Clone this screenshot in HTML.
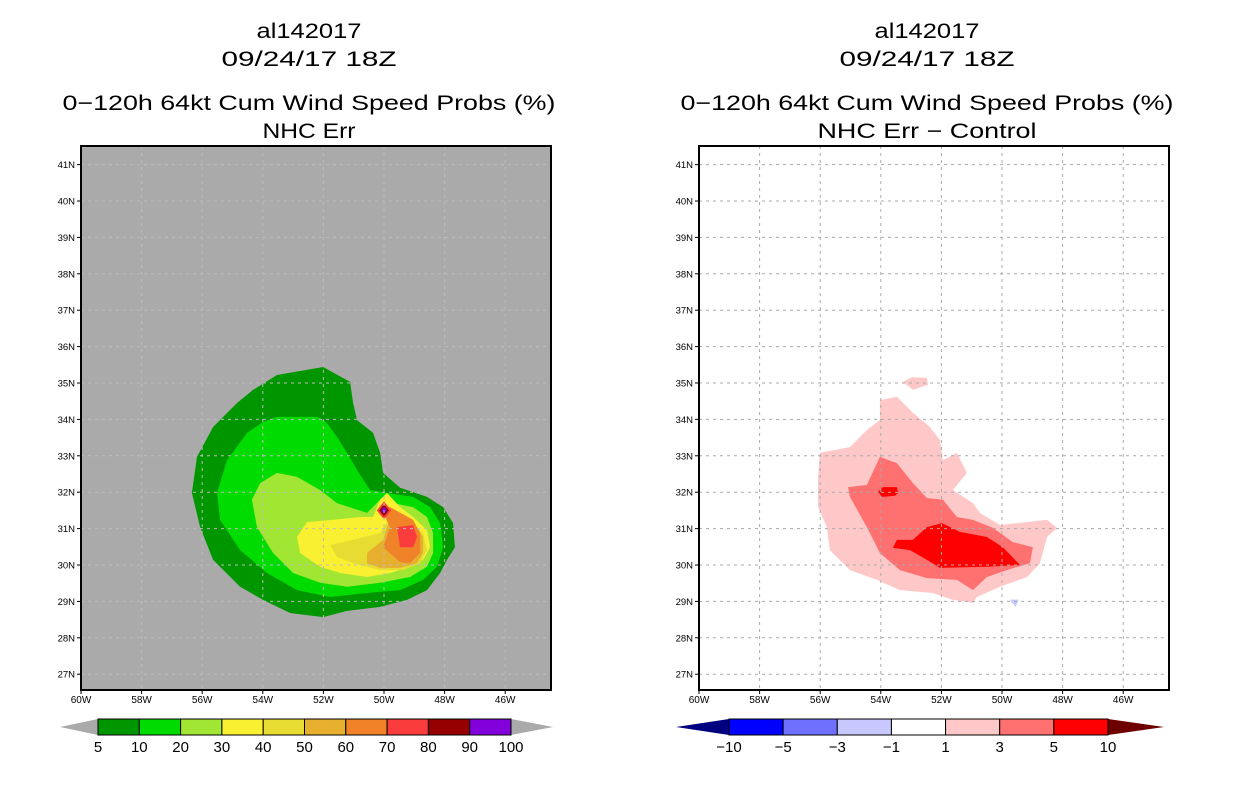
<!DOCTYPE html>
<html><head><meta charset="utf-8"><style>
html,body{margin:0;padding:0;background:#fff;}
svg{display:block;font-family:"Liberation Sans",sans-serif;}
</style></head><body>
<svg id="c" width="1236" height="800" viewBox="0 0 1236 800"></svg>
<script>
// ---- data ----
const lonTicks=[60,58,56,54,52,50,48,46];
const latTicks=[41,40,39,38,37,36,35,34,33,32,31,30,29,28,27];
const probLevels=[5,10,20,30,40,50,60,70,80,90,100];
const probColors=['#009600','#00dc00','#a0e632','#faf032','#e6dc32','#e6af2d','#f08228','#fa3c3c','#960000','#8200dc'];
const diffLabels=[-10,-5,-3,-1,1,3,5,10];
const diffColors=['#0000ff','#7070ff','#c8c8ff','#ffffff','#ffc8c8','#ff7070','#ff0000'];
// contours [lonW, latN]
const p5=[[53.53,35.22],[52.01,35.44],[51.12,35.03],[51.02,34.45],[50.89,33.98],[50.36,33.63],[50.13,33.08],[50.03,32.53],[49.47,32.12],[48.58,31.87],[48.05,31.59],[47.72,31.15],[47.66,30.49],[47.92,30.14],[48.15,29.78],[48.58,29.31],[49.24,29.04],[50.13,28.85],[51.22,28.74],[52.01,28.57],[53.10,28.68],[53.99,29.04],[54.75,29.40],[55.64,30.14],[56.07,31.04],[56.34,31.98],[56.17,32.97],[55.64,33.79],[54.85,34.45],[54.32,34.81]];
const p10=[[53.53,34.07],[52.21,34.07],[51.88,33.90],[51.55,33.52],[51.22,33.08],[50.89,32.61],[50.46,32.06],[49.90,31.98],[49.04,31.87],[48.48,31.59],[48.15,31.15],[48.05,30.49],[48.25,29.95],[48.71,29.59],[49.47,29.31],[50.56,29.23],[51.78,29.12],[52.87,29.31],[53.86,29.78],[54.75,30.41],[55.41,31.24],[55.51,31.98],[55.18,32.88],[54.52,33.63],[53.99,33.93]];
const p20=[[53.53,32.53],[52.87,32.42],[52.11,32.06],[51.55,31.70],[50.56,31.43],[50.13,31.79],[49.70,31.70],[49.04,31.59],[48.58,31.32],[48.38,30.88],[48.38,30.33],[48.58,29.95],[49.14,29.67],[50.13,29.51],[51.22,29.40],[52.11,29.51],[53.00,29.78],[53.66,30.33],[54.19,31.04],[54.36,31.79],[54.09,32.25]];
const p30=[[52.54,31.18],[51.68,31.24],[50.79,31.32],[50.36,31.32],[50.13,31.79],[49.90,31.98],[49.47,31.59],[49.04,31.32],[48.58,30.96],[48.48,30.49],[48.71,30.14],[49.14,29.95],[49.80,29.78],[50.56,29.67],[51.45,29.78],[52.11,29.95],[52.77,30.33],[52.87,30.77]];
const p40=[[51.78,30.55],[51.02,30.69],[50.13,30.88],[49.70,31.43],[49.14,31.24],[48.71,30.88],[48.58,30.41],[48.81,30.05],[49.37,29.86],[50.13,29.86],[51.02,30.05],[51.55,30.22]];
const p50=[[50.56,30.33],[50.03,30.69],[49.80,31.32],[49.04,31.15],[48.71,30.77],[48.71,30.33],[48.91,30.05],[49.47,29.92],[50.13,29.92],[50.56,30.05]];
const p60=[[50.03,30.49],[49.80,31.04],[50.03,31.43],[49.80,31.59],[49.04,31.24],[48.81,30.88],[48.81,30.33],[49.14,30.05],[49.47,30.08]];
const p70=[[49.57,31.04],[49.04,31.10],[48.91,30.77],[49.04,30.49],[49.47,30.49]];
const peak=[50.0,31.5];
const d1=[[54.03,34.53],[53.47,34.62],[52.94,34.18],[52.38,33.79],[52.05,33.43],[51.95,32.88],[51.49,33.08],[51.16,32.53],[51.62,32.06],[50.96,31.70],[50.73,31.43],[50.07,31.10],[48.51,31.24],[48.18,31.02],[48.51,30.77],[48.75,30.05],[49.17,29.67],[50.07,29.40],[50.83,29.12],[50.96,28.96],[51.62,29.04],[52.28,29.23],[53.37,29.31],[54.13,29.59],[55.02,29.86],[55.68,30.41],[55.78,31.04],[56.07,31.59],[56.07,32.42],[56.01,33.08],[55.02,33.24],[54.46,33.71],[54.03,33.98]];
const d1b=[[53.27,35.03],[52.97,35.16],[52.48,35.14],[52.44,34.95],[52.94,34.81]];
const d3=[[54.03,32.97],[53.47,32.80],[52.94,32.25],[52.48,31.84],[51.95,31.79],[51.49,31.32],[50.96,31.24],[50.30,31.02],[49.64,30.63],[48.98,30.49],[49.08,30.05],[49.84,29.86],[50.50,29.67],[50.96,29.31],[51.49,29.59],[52.48,29.64],[53.37,29.86],[54.03,30.33],[54.46,31.04],[55.02,31.87],[55.08,32.14],[54.46,32.20]];
const d5=[[53.47,30.69],[52.94,30.69],[52.48,31.04],[51.98,31.15],[51.39,30.91],[50.50,30.77],[49.97,30.49],[49.41,30.00],[50.50,29.95],[52.05,29.92],[52.48,30.14],[53.04,30.41],[53.60,30.47]];
const d5b=[[54.09,32.01],[53.93,32.14],[53.47,32.14],[53.43,31.98],[53.53,31.90],[53.96,31.87]];
const dneg=[[49.75,29.05],[49.45,29.05],[49.55,28.85]];

const NS='http://www.w3.org/2000/svg';
const svg=document.getElementById('c');
function el(tag,attrs,parent){const e=document.createElementNS(NS,tag);for(const k in attrs)e.setAttribute(k,attrs[k]);(parent||svg).appendChild(e);return e;}
const Y0=146,Y1=690;
function yS(lat){return 383-(lat-35)*36.4;}
function mkX(x0){return w=>x0+(60-w)*30.3;}

function panel(x0,bg,name){
  const xS=mkX(x0);
  const g=el('g',{});
  
  
  const clip=el('clipPath',{id:'cl'+x0},g);
  el('rect',{x:x0,y:Y0,width:470,height:Y1-Y0},clip);
  const bgr=el('rect',{x:x0,y:Y0,width:470,height:Y1-Y0,fill:bg},g);
  
  
  const inner=el('g',{'clip-path':'url(#cl'+x0+')'},g);
  return {g,inner,xS};
}
function poly(P,arr,fill,nm){
  const pts=arr.map(p=>P.xS(p[0]).toFixed(1)+','+yS(p[1]).toFixed(1)).join(' ');
  const e=el('polygon',{points:pts,fill:fill},P.inner);
  
  
}
function gridAxes(P,x0,gridCol){
  lonTicks.forEach(w=>{const x=P.xS(w);
    el('line',{x1:x,y1:Y0,x2:x,y2:Y1,stroke:gridCol,'stroke-width':1,'stroke-dasharray':'3,4'},P.inner);
    el('line',{x1:x,y1:Y1,x2:x,y2:Y1+4,stroke:'#000'},P.g);
    const t=el('text',{x:x,y:Y1+13,'font-size':10,'text-anchor':'middle'},P.g);t.textContent=w+'W';
    
    
  });
  latTicks.forEach(n=>{const y=yS(n);
    el('line',{x1:x0,y1:y,x2:x0+470,y2:y,stroke:gridCol,'stroke-width':1,'stroke-dasharray':'3,4'},P.inner);
    el('line',{x1:x0-4,y1:y,x2:x0,y2:y,stroke:'#000'},P.g);
    const t=el('text',{x:x0-6,y:y+3.5,'font-size':9.5,'text-anchor':'end'},P.g);t.textContent=n+'N';
    
    
  });
  el('rect',{x:x0,y:Y0,width:470,height:Y1-Y0,fill:'none',stroke:'#000','stroke-width':2},P.g);
}
function titles(cx,l4,l4w){
  [['al142017',38,105],['09/24/17 18Z',66,175],['0\u2212120h 64kt Cum Wind Speed Probs (%)',110,493],[l4,138,l4w]].forEach((a,i)=>{
    const t=el('text',{x:cx,y:a[1],'font-size':21,'text-anchor':'middle',textLength:a[2],lengthAdjust:'spacingAndGlyphs'});t.textContent=a[0];
    
    
  });
}
// Left panel
titles(309,'NHC Err',93);
const L=panel(81,'#aaaaaa','left-probability-map');
[p5,p10,p20,p30,p40,p50,p60,p70].forEach((a,i)=>poly(L,a,probColors[i],'contour-'+probLevels[i]));
{const x=L.xS(peak[0]),y=yS(peak[1]);
 [[9,'#fa3c3c'],[6,'#960000'],[3.5,'#8200dc']].forEach(r=>{
  const d=el('polygon',{points:`${x},${y-r[0]} ${x+r[0]*0.8},${y} ${x},${y+r[0]} ${x-r[0]*0.8},${y}`,fill:r[1]},L.inner);
  
  
 });}
gridAxes(L,81,'#bcbcbc');
// Right panel
titles(927,'NHC Err \u2212 Control',219);
const R=panel(699,'#ffffff','right-difference-map');
poly(R,d1,diffColors[4],'diff-contour-1');
poly(R,d1b,diffColors[4],'diff-contour-1-blob');
poly(R,d3,diffColors[5],'diff-contour-3');
poly(R,d5,diffColors[6],'diff-contour-5');
poly(R,d5b,diffColors[6],'diff-contour-5-blob');
poly(R,dneg,diffColors[2],'diff-contour-neg');
gridAxes(R,699,'#aaaaaa');

// Colorbars
function colorbar(x0,x1,tipL,tipR,cols,labels,lc,rc,name){
  const g=el('g',{});
  
  
  const y0=719,y1=735,w=(x1-x0)/cols.length;
  el('polygon',{points:`${x0},${y0} ${tipL},${(y0+y1)/2} ${x0},${y1}`,fill:lc},g);
  el('polygon',{points:`${x1},${y0} ${tipR},${(y0+y1)/2} ${x1},${y1}`,fill:rc},g);
  cols.forEach((c,i)=>{const r=el('rect',{x:x0+i*w,y:y0,width:w,height:y1-y0,fill:c,stroke:'#000','stroke-width':1},g);
    
    });
  labels.forEach((lb,i)=>{const t=el('text',{x:x0+i*w,y:752,'font-size':15,'text-anchor':'middle'},g);
    t.textContent=String(lb).replace('-','\u2212');
    
    });
}
colorbar(98,511,60,553,probColors,probLevels,'#aaaaaa','#aaaaaa','probability-colorbar');
colorbar(729,1108,676,1164,diffColors,diffLabels,'#000080','#6e0000','difference-colorbar');
</script>
</body></html>
